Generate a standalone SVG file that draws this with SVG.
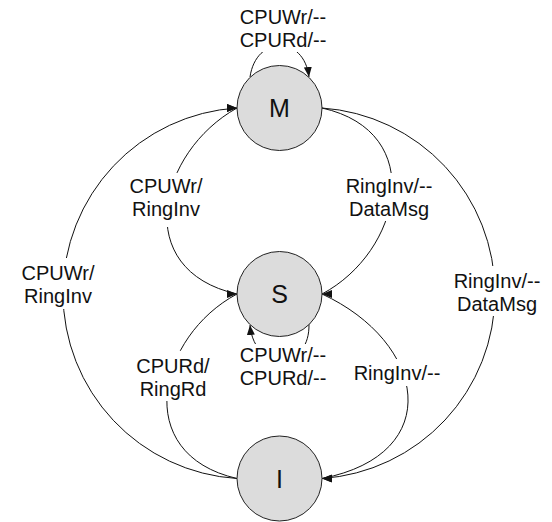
<svg xmlns="http://www.w3.org/2000/svg" width="552" height="522" viewBox="0 0 552 522">
  <defs>
    <!-- fixed-direction heads for edges entering a state from its left / right side -->
    <marker id="head-right" viewBox="0 0 10 8" refX="10" refY="4" markerWidth="10" markerHeight="8" markerUnits="userSpaceOnUse" orient="0">
      <path d="M0,0 L10,4 L0,8 Z" fill="#111"/>
    </marker>
    <marker id="head-left" viewBox="0 0 10 8" refX="10" refY="4" markerWidth="10" markerHeight="8" markerUnits="userSpaceOnUse" orient="180">
      <path d="M0,0 L10,4 L0,8 Z" fill="#111"/>
    </marker>
    <!-- head that follows the path direction, used on the self-loops -->
    <marker id="head-auto" viewBox="0 0 10 8" refX="10" refY="4" markerWidth="10" markerHeight="8" markerUnits="userSpaceOnUse" orient="auto">
      <path d="M0,0 L10,4 L0,8 Z" fill="#111"/>
    </marker>
  </defs>
  <style>
    .edge { fill: none; stroke: #111; stroke-width: 1; }
    .state circle { fill: #dcdcdc; stroke: #222; stroke-width: 1; }
    .state text { font-family: "Liberation Sans", Arial, sans-serif; font-size: 25px; fill: #111; text-anchor: middle; }
    .label rect { fill: #ffffff; stroke: none; }
    .label text { font-family: "Liberation Sans", Arial, sans-serif; font-size: 20px; fill: #111; text-anchor: middle; }
  </style>
  <rect width="552" height="522" fill="#ffffff"/>

  <!-- transitions -->
  <g id="connectors">
    <!-- M self-loop -->
    <path class="edge" d="M250,77 C256,35 304,35 309,77" marker-end="url(#head-auto)"/>
    <!-- S self-loop -->
    <path class="edge" d="M309,324 C310,372 254,372 250,325" marker-end="url(#head-auto)"/>
    <!-- I -> M (outer left) -->
    <path class="edge" d="M237,478.5 A185.6,185.6 0 0,1 63,293.25 A185.6,185.6 0 0,1 237,108" marker-end="url(#head-right)"/>
    <!-- S -> M (inner left) -->
    <path class="edge" d="M237,294 C130,270 158,152 237,108" marker-end="url(#head-right)"/>
    <!-- I -> S (lower left) -->
    <path class="edge" d="M237,478.5 C130,454 158,336 237,294" marker-end="url(#head-right)"/>
    <!-- M -> S (inner right) -->
    <path class="edge" d="M322,108 C429,132 401,252 322,294" marker-end="url(#head-left)"/>
    <!-- S -> I (lower right) -->
    <path class="edge" d="M322,294 C426,342 447,454 322,478.5" marker-end="url(#head-left)"/>
    <!-- M -> I (outer right) -->
    <path class="edge" d="M322,108 A185.6,185.6 0 0,1 495,293.25 A185.6,185.6 0 0,1 322,478.5" marker-end="url(#head-left)"/>
  </g>

  <!-- transition labels, each on a white patch that breaks the line beneath -->
  <g id="label-m-loop" class="label">
    <rect x="237" y="6" width="92" height="46"/>
    <text x="283" y="24">CPUWr/--</text>
    <text x="283" y="47">CPURd/--</text>
  </g>
  <g id="label-s-m" class="label">
    <rect x="127" y="173" width="78" height="54"/>
    <text x="166" y="193">CPUWr/</text>
    <text x="166" y="216">RingInv</text>
  </g>
  <g id="label-i-m" class="label">
    <rect x="19" y="258" width="78" height="51"/>
    <text x="58" y="280">CPUWr/</text>
    <text x="58" y="303">RingInv</text>
  </g>
  <g id="label-i-s" class="label">
    <rect x="134" y="351" width="79" height="50"/>
    <text x="173" y="373">CPURd/</text>
    <text x="173" y="396">RingRd</text>
  </g>
  <g id="label-s-loop" class="label">
    <rect x="237" y="344" width="92" height="46"/>
    <text x="283" y="362">CPUWr/--</text>
    <text x="283" y="385">CPURd/--</text>
  </g>
  <g id="label-m-s" class="label">
    <rect x="344" y="173" width="90" height="48"/>
    <text x="389" y="193">RingInv/--</text>
    <text x="389" y="216">DataMsg</text>
  </g>
  <g id="label-m-i" class="label">
    <rect x="452" y="266" width="90" height="50"/>
    <text x="497" y="288">RingInv/--</text>
    <text x="497" y="311">DataMsg</text>
  </g>
  <g id="label-s-i" class="label">
    <rect x="352" y="359" width="91" height="27"/>
    <text x="397" y="380">RingInv/--</text>
  </g>

  <!-- states -->
  <g id="state-M" class="state">
    <circle cx="279.5" cy="108" r="42.5"/>
    <text x="279.5" y="117">M</text>
  </g>
  <g id="state-S" class="state">
    <circle cx="279.5" cy="294" r="42.5"/>
    <text x="279.5" y="303">S</text>
  </g>
  <g id="state-I" class="state">
    <circle cx="279.5" cy="478.5" r="42.5"/>
    <text x="279.5" y="487.5">I</text>
  </g>
</svg>
